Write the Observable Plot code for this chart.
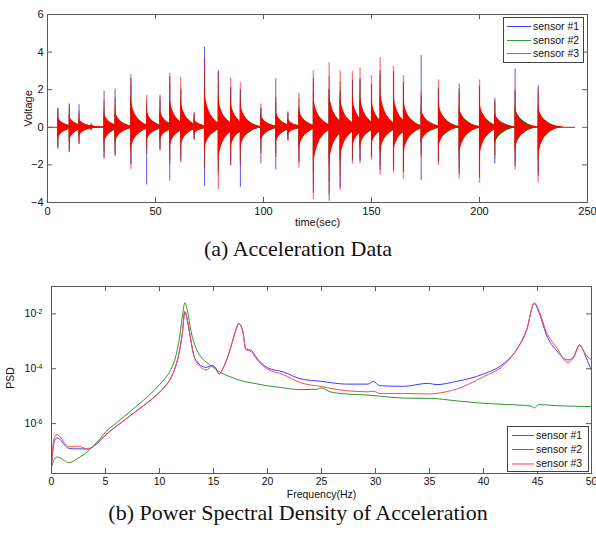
<!DOCTYPE html>
<html><head><meta charset="utf-8">
<script src="https://cdn.jsdelivr.net/npm/d3@7"></script>
<script src="https://cdn.jsdelivr.net/npm/@observablehq/plot@0.6"></script>
<style>
body{margin:0;background:#fff;}
#wrap{position:relative;width:596px;height:537px;overflow:hidden;font-family:"Liberation Sans",Arial,sans-serif;background:#fff;}
.chart{position:absolute;left:0;}
.cap{position:absolute;left:0;width:596px;text-align:center;font-family:"Liberation Serif","Times New Roman",serif;font-size:22px;line-height:22px;color:#111;white-space:nowrap;}
.leg{position:absolute;border:1px solid #444;background:#fff;font-size:10.5px;color:#111;box-sizing:border-box;}
.leg .row{position:absolute;left:0;height:13px;line-height:13px;width:100%;}
.leg .ln{position:absolute;top:6px;height:0;border-top:1px solid;}
.leg .tx{position:absolute;top:0;white-space:nowrap;}
</style>
</head><body>
<div id="wrap">
  <div id="c1" class="chart" style="top:0"></div>
  <div class="cap" style="top:237.6px">(a) Acceleration Data</div>
  <div id="c2" class="chart" style="top:262px"></div>
  <div class="cap" style="top:501.6px">(b) Power Spectral Density of Acceleration</div>
  <div id="leg1" class="leg" style="left:503px;top:17px;width:81px;height:46px"></div>
  <div id="leg2" class="leg" style="left:507px;top:426px;width:82px;height:46px"></div>
</div>
<script>
// ---------- (a) Acceleration data: impacts ----------
const impactTime = [4.8, 10.1, 14.6, 20.2, 26.2, 31.3, 38.6, 45.9, 52.1, 56.6, 61.7, 67.9, 72.7, 79.1, 84.8, 89.3, 98.8, 105.7, 111.3, 116.4, 123.1, 130.4, 135.5, 141.2, 144.7, 150.0, 154.0, 160.2, 164.8, 173.0, 181.0, 190.6, 200.0, 207.1, 216.5, 227.2];
const s1Max = [1.0, 1.24, 1.2, 0.17, 1.92, 2.04, 2.6, 1.2, 1.6, 2.7, 1.92, 0.75, 4.26, 3.0, 2.1, 2.0, 1.0, 2.58, 0.75, 1.0, 2.6, 2.0, 1.93, 2.5, 2.6, 2.3, 3.0, 2.95, 2.4, 3.82, 2.0, 2.31, 2.2, 1.55, 3.1, 2.22];
const s1Min = [-1.1, -1.3, -0.9, -0.17, -1.7, -1.5, -2.0, -3.07, -1.2, -2.86, -1.8, -0.65, -3.13, -2.3, -2.0, -3.2, -1.95, -2.27, -0.7, -1.9, -3.5, -3.94, -3.34, -1.8, -1.8, -1.6, -2.3, -2.3, -2.4, -2.84, -1.9, -2.5, -2.7, -1.95, -2.1, -2.6];
const s2Max = [0.85, 0.95, 0.7, 0.15, 1.1, 1.2, 2.2, 1.4, 1.4, 2.3, 2.1, 0.65, 2.8, 2.4, 2.1, 1.9, 1.0, 1.3, 0.7, 1.5, 2.4, 2.7, 2.4, 2.4, 2.5, 2.2, 2.8, 2.6, 2.2, 1.6, 2.1, 1.8, 2.1, 1.3, 1.9, 1.8];
const s2Min = [-1.0, -1.1, -0.8, -0.15, -1.3, -1.3, -1.9, -1.2, -1.1, -1.7, -1.6, -0.6, -1.9, -2.6, -1.8, -1.8, -1.2, -1.4, -0.65, -1.8, -3.0, -2.9, -2.6, -1.7, -1.7, -1.5, -2.1, -2.0, -2.3, -1.4, -1.8, -2.2, -2.4, -1.7, -1.9, -2.4];
const s3Max = [1.03, 1.15, 0.85, 0.18, 1.4, 1.6, 2.8, 1.7, 1.7, 2.88, 2.66, 0.8, 3.64, 2.95, 2.6, 2.38, 1.24, 1.6, 0.83, 1.83, 3.0, 3.43, 3.0, 2.97, 3.16, 2.75, 3.7, 3.23, 2.75, 1.87, 2.52, 2.04, 2.52, 1.42, 2.0, 2.04];
const s3Min = [-1.2, -1.35, -0.92, -0.18, -1.6, -1.55, -2.25, -1.4, -1.28, -1.95, -1.9, -0.7, -2.2, -3.32, -2.08, -2.1, -1.4, -1.6, -0.76, -2.18, -3.85, -3.6, -3.2, -1.97, -1.95, -1.78, -2.54, -2.43, -2.75, -1.6, -2.04, -2.75, -2.98, -1.5, -2.27, -2.95];
// decay envelope (seconds after impact, fraction of peak)
const bodyDt    = [0, 0.3, 0.7, 1.2, 2, 3, 4.5, 6, 8, 10, 12];
const bodyFrac3 = [0.62, 0.5, 0.4, 0.33, 0.25, 0.18, 0.11, 0.065, 0.03, 0.012, 0];
const bodyFrac2 = [0.6, 0.5, 0.42, 0.36, 0.29, 0.22, 0.15, 0.09, 0.045, 0.015, 0];
const signalSpan = [0, 244.5];
const timeTicks = [0, 50, 100, 150, 200, 250];
const voltTicks = [-4, -2, 0, 2, 4, 6];

// ---------- (b) PSD ----------
const freq13 = [0, 0.2, 0.5, 0.8, 1.2, 1.6, 2.0, 2.4, 2.8, 3.3, 3.9, 4.5, 5, 6, 7, 8, 9, 10, 10.5, 11, 11.5, 11.8, 12.1, 12.35, 12.6, 12.9, 13.2, 13.5, 13.8, 14.3, 14.9, 15.2, 15.5, 16, 16.6, 17.0, 17.35, 17.7, 18.0, 18.5, 18.9, 19.4, 20, 21.5, 23, 25, 27.3, 29.3, 29.8, 30.4, 32.6, 34.9, 35.6, 37.5, 40, 41.8, 43.1, 44.0, 44.7, 45.2, 45.8, 46.8, 47.8, 48.3, 48.9, 49.5, 50];
const psdLog1 = [-7.6, -6.75, -6.52, -6.58, -6.78, -6.9, -6.92, -6.92, -6.92, -6.93,
  -6.83, -6.62, -6.42, -6.1, -5.8, -5.5, -5.2, -4.86, -4.65, -4.38,
  -3.9, -3.45, -2.76, -1.93, -2.28, -2.97, -3.55, -3.75, -3.88, -3.95,
  -3.88, -3.97, -4.19, -3.88, -3.22, -2.68, -2.35, -2.62, -3.28, -3.33,
  -3.55, -3.78, -3.96, -4.12, -4.36, -4.46, -4.56, -4.56, -4.46, -4.62,
  -4.64, -4.53, -4.58, -4.46, -4.19, -3.83, -3.28, -2.56, -1.63, -2.01,
  -2.74, -3.35, -3.68, -3.59, -3.13, -3.59, -4.07];
const psdLog3 = [-7.6, -6.6, -6.4, -6.48, -6.7, -6.84, -6.85, -6.82, -6.86, -6.92,
  -6.82, -6.62, -6.42, -6.1, -5.8, -5.5, -5.2, -4.86, -4.65, -4.38,
  -3.9, -3.45, -2.74, -1.9, -2.25, -2.95, -3.55, -3.8, -3.94, -4.05,
  -3.9, -3.97, -4.19, -3.89, -3.22, -2.68, -2.35, -2.62, -3.3, -3.38,
  -3.6, -3.83, -4.01, -4.22, -4.5, -4.65, -4.8, -4.84, -4.82, -4.9,
  -4.9, -4.92, -4.9, -4.74, -4.29, -3.89, -3.28, -2.6, -1.59, -1.95,
  -2.64, -3.25, -3.77, -3.62, -3.16, -3.5, -3.68];
const freq2 = [0, 0.2, 0.5, 0.8, 1.2, 1.6, 2.0, 2.4, 2.8, 3.3, 3.9, 4.5, 5, 6, 7, 8, 9, 10, 10.5, 11, 11.5, 11.8, 12.1, 12.35, 12.6, 12.9, 13.2, 13.5, 13.8, 14.3, 14.9, 15.5, 16.6, 17.7, 18.7, 20, 21.5, 23, 24.6, 25.0, 25.8, 27.3, 29.3, 30.4, 32.6, 35.1, 37.5, 40, 42, 44.4, 44.7, 45.1, 47, 50];
const psdLog2 = [-7.6, -7.35, -7.22, -7.25, -7.35, -7.43, -7.38, -7.28, -7.18, -7.04,
  -6.8, -6.55, -6.31, -5.98, -5.65, -5.32, -4.98, -4.58, -4.36, -4.07,
  -3.55, -3.0, -2.15, -1.59, -1.9, -2.6, -3.05, -3.35, -3.55, -3.75,
  -3.93, -4.1, -4.3, -4.45, -4.53, -4.62, -4.7, -4.76, -4.75, -4.7,
  -4.84, -4.92, -4.96, -5.0, -5.07, -5.08, -5.17, -5.26, -5.3, -5.36,
  -5.43, -5.31, -5.35, -5.38];
const freqTicks = [0, 5, 10, 15, 20, 25, 30, 35, 40, 45, 50];
const psdTickExp = [-6, -4, -2];
const psdDomainExp = [-7.82, -1];

const sensorNames = ["sensor #1", "sensor #2", "sensor #3"];

// ---------- build rows ----------
function bodyRows(maxA, minA, frac) {
  const rows = [];
  impactTime.forEach((t, i) => bodyDt.forEach((dt, j) =>
    rows.push({id: i, t: t + dt, hi: maxA[i] * frac[j], lo: minA[i] * frac[j]})));
  return rows;
}
function spikeRows(maxA, minA) { return impactTime.map((t, i) => ({t, hi: maxA[i], lo: minA[i]})); }
function psdRows(freq, logs) { return freq.map((f, i) => ({f, v: Math.pow(10, logs[i])})); }

const W = 596;
const frameStroke = "#5a5a5a";
const font = "'Liberation Sans', Arial, sans-serif";

// ---------- chart 1 ----------
const h1 = 232, mt1 = 14, mb1 = 30, ml1 = 47, mr1 = 9;
const ph1 = h1 - mt1 - mb1, pw1 = W - ml1 - mr1;
const tk = 5;
const p1 = Plot.plot({
  width: W, height: h1, marginLeft: ml1, marginRight: mr1, marginTop: mt1, marginBottom: mb1,
  style: {fontFamily: font, fontSize: "11px", color: "#111", background: "transparent", overflow: "visible"},
  x: {domain: [0, 250]},
  y: {domain: [-4, 6]},
  marks: [
    Plot.ruleX(spikeRows(s1Max, s1Min), {x: "t", y1: "lo", y2: "hi", stroke: "#0000ff", strokeOpacity: 0.65}),
    Plot.areaY(bodyRows(s2Max, s2Min, bodyFrac2), {x: "t", y1: "lo", y2: "hi", z: "id", fill: "#008000"}),
    Plot.ruleX(spikeRows(s2Max, s2Min), {x: "t", y1: "lo", y2: "hi", stroke: "#008000", strokeOpacity: 0.6}),
    Plot.ruleY([0], {x1: signalSpan[0], x2: signalSpan[1], stroke: "#ff0000"}),
    Plot.areaY(bodyRows(s3Max, s3Min, bodyFrac3), {x: "t", y1: "lo", y2: "hi", z: "id", fill: "#ff0000"}),
    Plot.ruleX(spikeRows(s3Max, s3Min), {x: "t", y1: "lo", y2: "hi", stroke: "#ff0000", strokeOpacity: 0.5, strokeWidth: 1.4}),
    Plot.frame({stroke: frameStroke}),
    Plot.tickX(timeTicks, {x: d => d, insetTop: ph1 - tk, stroke: frameStroke}),
    Plot.tickX(timeTicks, {x: d => d, insetBottom: ph1 - tk, stroke: frameStroke}),
    Plot.tickY(voltTicks, {y: d => d, insetRight: pw1 - tk, stroke: frameStroke}),
    Plot.tickY(voltTicks, {y: d => d, insetLeft: pw1 - tk, stroke: frameStroke}),
    Plot.axisX(timeTicks, {tickSize: 0, tickPadding: 4.5, label: null}),
    Plot.axisY(voltTicks, {tickSize: 0, tickPadding: 4, label: null}),
    Plot.text(["time(sec)"], {frameAnchor: "bottom", dy: 20, lineAnchor: "middle", textAnchor: "middle", text: d => d}),
    Plot.text(["Voltage"], {frameAnchor: "left", dx: -19.5, rotate: -90, lineAnchor: "middle", textAnchor: "middle", text: d => d})
  ]
});
document.getElementById("c1").appendChild(p1);

// ---------- chart 2 ----------
const h2 = 238, mt2 = 24, mb2 = 27, ml2 = 51, mr2 = 5;
const ph2 = h2 - mt2 - mb2, pw2 = W - ml2 - mr2;
const psdTicks = psdTickExp.map(e => Math.pow(10, e));
const p2 = Plot.plot({
  width: W, height: h2, marginLeft: ml2, marginRight: mr2, marginTop: mt2, marginBottom: mb2,
  style: {fontFamily: font, fontSize: "10.5px", color: "#111", background: "transparent", overflow: "visible"},
  x: {domain: [0, 50]},
  y: {type: "log", domain: psdDomainExp.map(e => Math.pow(10, e))},
  marks: [
    Plot.line(psdRows(freq13, psdLog1), {x: "f", y: "v", stroke: "#3c3cff", strokeWidth: 1, curve: "monotone-x"}),
    Plot.line(psdRows(freq2, psdLog2), {x: "f", y: "v", stroke: "#2e962e", strokeWidth: 1, curve: "monotone-x"}),
    Plot.line(psdRows(freq13, psdLog3), {x: "f", y: "v", stroke: "#ff4a4a", strokeWidth: 1, curve: "monotone-x"}),
    Plot.frame({stroke: frameStroke}),
    Plot.tickX(freqTicks, {x: d => d, insetTop: ph2 - tk, stroke: frameStroke}),
    Plot.tickX(freqTicks, {x: d => d, insetBottom: ph2 - tk, stroke: frameStroke}),
    Plot.tickY(psdTicks, {y: d => d, insetRight: pw2 - tk, stroke: frameStroke}),
    Plot.tickY(psdTicks, {y: d => d, insetLeft: pw2 - tk, stroke: frameStroke}),
    Plot.axisX(freqTicks, {tickSize: 0, tickPadding: 4, label: null}),
    Plot.axisY(psdTicks, {tickSize: 0, tickPadding: 9, label: null, tickFormat: d => String(Math.round(Math.log10(d)))}),
    Plot.text(["Frequency(Hz)"], {frameAnchor: "bottom", dy: 21.5, lineAnchor: "middle", textAnchor: "middle", text: d => d}),
    Plot.text(["PSD"], {frameAnchor: "left", dx: -40.5, dy: -2, rotate: -90, lineAnchor: "middle", textAnchor: "middle", text: d => d})
  ]
});
document.getElementById("c2").appendChild(p2);
// superscript exponents on log tick labels
d3.select(p2).selectAll('g[aria-label="y-axis tick label"] text').each(function() {
  const t = d3.select(this);
  const exp = t.text();
  t.text(null);
  t.append("tspan").text("10");
  t.append("tspan").attr("dy", "-0.45em").attr("font-size", "7px").text(exp);
});

// ---------- legends ----------
function buildLegend(id, colors, widths, rowTops, lnLeft, lnW, txLeft) {
  const el = document.getElementById(id);
  sensorNames.forEach((name, i) => {
    const row = document.createElement("div");
    row.className = "row";
    row.style.top = rowTops[i] + "px";
    const ln = document.createElement("span");
    ln.className = "ln";
    ln.style.left = lnLeft + "px";
    ln.style.width = lnW + "px";
    ln.style.borderTopColor = colors[i];
    ln.style.borderTopWidth = widths[i] + "px";
    const tx = document.createElement("span");
    tx.className = "tx";
    tx.style.left = txLeft + "px";
    tx.textContent = name;
    row.appendChild(ln); row.appendChild(tx);
    el.appendChild(row);
  });
}
buildLegend("leg1", ["#3c3cff", "#3a9a3a", "#ff4040"], [1, 1, 1], [2, 16, 29], 3, 24, 29);
buildLegend("leg2", ["#5050ff", "#3a9a3a", "#ff9e9e"], [1, 1, 2], [2, 16, 30], 4, 22, 28);
</script>
</body></html>
